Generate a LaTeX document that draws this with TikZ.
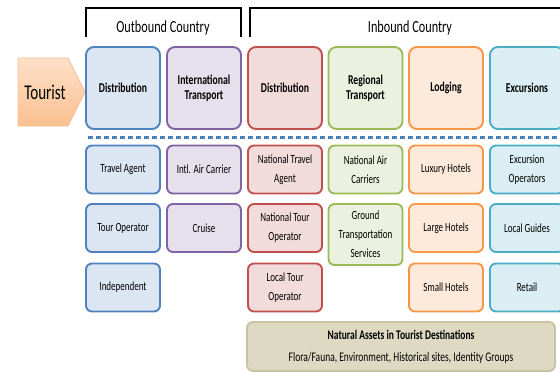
\documentclass[tikz,border=0pt]{standalone}
\usepackage{fontspec}
\setmainfont{Carlito}[FakeStretch=0.72]
\usetikzlibrary{positioning}

\definecolor{bluedraw}{HTML}{4F81BD}
\definecolor{bluefill}{HTML}{DCE6F2}
\definecolor{purpledraw}{HTML}{8064A2}
\definecolor{purplefill}{HTML}{E5E0EC}
\definecolor{reddraw}{HTML}{C0504D}
\definecolor{redfill}{HTML}{F2DCDB}
\definecolor{greendraw}{HTML}{9BBB59}
\definecolor{greenfill}{HTML}{EBF1DE}
\definecolor{orangedraw}{HTML}{F79646}
\definecolor{orangefill}{HTML}{FDEADA}
\definecolor{aquadraw}{HTML}{4BACC6}
\definecolor{aquafill}{HTML}{DAEEF3}
\definecolor{assetdraw}{HTML}{C9C3A2}
\definecolor{assetfill}{HTML}{DDD9C3}
\definecolor{touristtop}{HTML}{FDE0C8}
\definecolor{touristbot}{HTML}{FAC090}
\definecolor{touristdraw}{HTML}{F9BE8E}

\begin{document}
\begin{tikzpicture}[x=1pt,y=-1pt]
\tikzset{
  headbox/.style={rounded corners=8pt,line width=1.9pt,minimum width=74pt,minimum height=82pt,
    inner sep=2pt,align=center,font=\fontsize{13.5}{15}\selectfont\bfseries},
  itembox/.style={rounded corners=6pt,line width=1.9pt,minimum width=74pt,minimum height=48pt,
    inner sep=2pt,align=center,font=\fontsize{12.5}{19}\selectfont},
  bluebox/.style={draw=bluedraw,fill=bluefill},
  purplebox/.style={draw=purpledraw,fill=purplefill},
  redbox/.style={draw=reddraw,fill=redfill},
  greenbox/.style={draw=greendraw,fill=greenfill},
  orangebox/.style={draw=orangedraw,fill=orangefill},
  aquabox/.style={draw=aquadraw,fill=aquafill},
  bracket/.style={draw=black,line width=1.4pt},
  countrylabel/.style={font=\fontsize{17}{18}\selectfont}
}
\useasboundingbox (0,0) rectangle (560,372);
\clip (0,0) rectangle (560,372);

% tourist arrow
\shade[top color=touristtop,bottom color=touristbot,draw=touristdraw,line width=0.8pt]
  (18,58) -- (68,58) -- (85,92) -- (68,126) -- (18,126) -- cycle;
\node[font=\fontsize{21}{22}\selectfont] (n_tourist) at (45,92) {Tourist};

% country brackets
\draw[bracket] (86,37) -- (86,8) -- (241,8) -- (241,37);
\node[countrylabel] (n_out) at (163,28) {Outbound Country};
\draw[bracket] (250,37) -- (250,8) -- (575,8) -- (575,37);
\node[countrylabel] (n_in) at (410,28) {Inbound Country};

% header row
\node[headbox,bluebox] (h_dist) at (123,88) {Distribution};
\node[headbox,purplebox] (h_intl) at (204,88) {International\\Transport};
\node[headbox,redbox] (h_idist) at (285,88) {Distribution};
\node[headbox,greenbox] (h_reg) at (365.5,88) {Regional\\Transport};
\node[headbox,orangebox] (h_lodge) at (446,88) {Lodging};
\node[headbox,aquabox] (h_exc) at (527,88) {Excursions};

\draw[bluedraw,line width=3pt,dash pattern=on 5pt off 3pt] (88,137) -- (560,137);

% outbound distribution
\node[itembox,bluebox] (d_agent) at (123,169.5) {Travel Agent};
\node[itembox,bluebox] (d_tour) at (123,228) {Tour Operator};
\node[itembox,bluebox] (d_indep) at (123,287.5) {Independent};
% international transport
\node[itembox,purplebox] (t_air) at (204,169.5) {Intl. Air Carrier};
\node[itembox,purplebox] (t_cruise) at (204,228) {Cruise};
% inbound distribution
\node[itembox,redbox] (i_agent) at (285,169.5) {National Travel\\Agent};
\node[itembox,redbox] (i_tour) at (285,228) {National Tour\\Operator};
\node[itembox,redbox] (i_local) at (285,287.5) {Local Tour\\Operator};
% regional transport
\node[itembox,greenbox] (r_air) at (365.5,169.5) {National Air\\Carriers};
\node[itembox,greenbox,minimum height=61pt] (r_ground) at (365.5,234.5) {Ground\\Transportation\\Services};
% lodging
\node[itembox,orangebox] (l_lux) at (446,169.5) {Luxury Hotels};
\node[itembox,orangebox] (l_large) at (446,228) {Large Hotels};
\node[itembox,orangebox] (l_small) at (446,287.5) {Small Hotels};
% excursions
\node[itembox,aquabox] (e_ops) at (527,169.5) {Excursion\\Operators};
\node[itembox,aquabox] (e_guide) at (527,228) {Local Guides};
\node[itembox,aquabox] (e_retail) at (527,287.5) {Retail};

% natural assets
\node[rounded corners=6pt,draw=assetdraw,fill=assetfill,line width=1.9pt,minimum width=308pt,
  minimum height=49pt,align=center,font=\fontsize{13.2}{22}\selectfont] (n_assets) at (401,346.5)
  {{\bfseries Natural Assets in Tourist Destinations}\\Flora/Fauna, Environment, Historical sites, Identity Groups};
\end{tikzpicture}
\end{document}
